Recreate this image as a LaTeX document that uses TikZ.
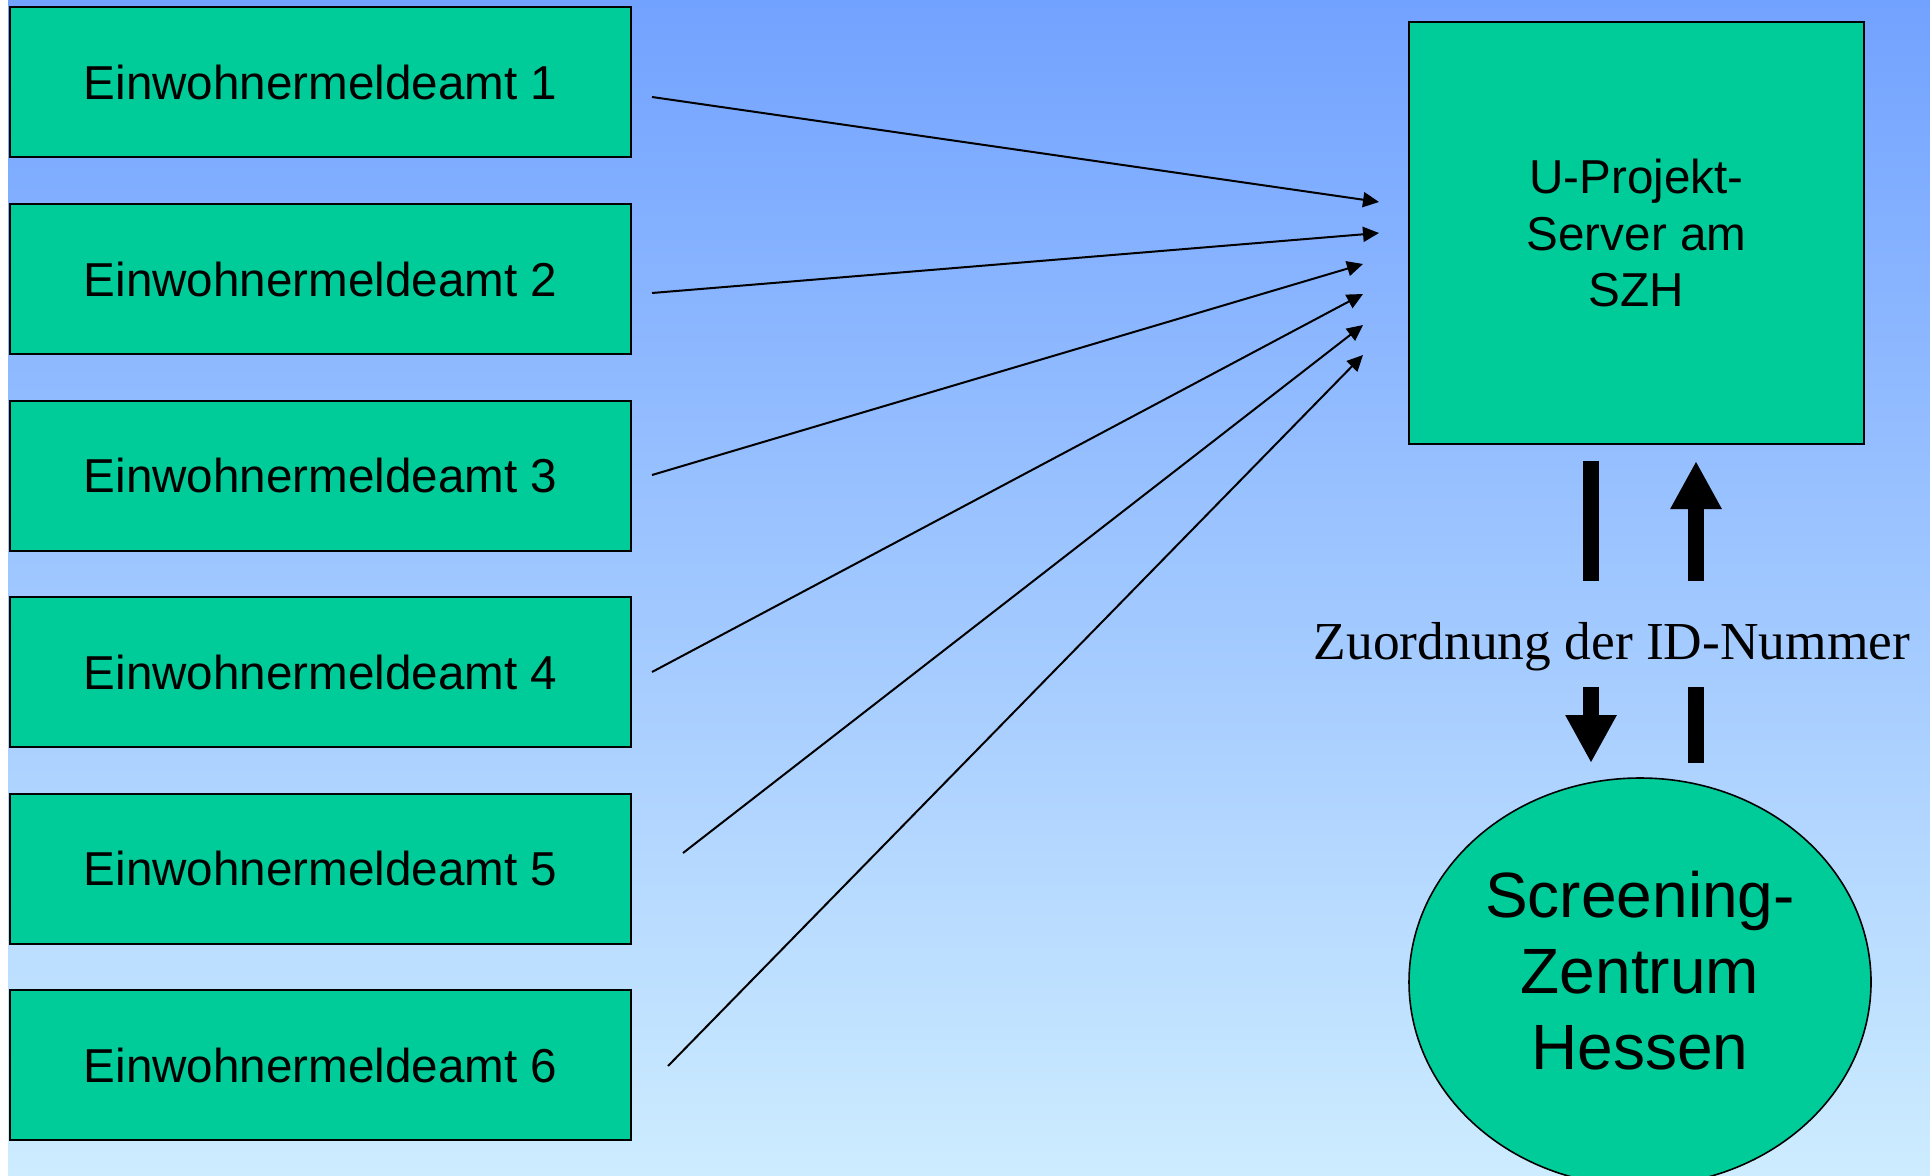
\documentclass[tikz,border=0pt]{standalone}
\usepackage{fontspec}
\setmainfont{Liberation Sans}
\newfontfamily\serifface{Liberation Serif}
\usetikzlibrary{arrows.meta,shapes.geometric}
\definecolor{bgtop}{RGB}{114,162,255}
\definecolor{bgbot}{RGB}{205,236,255}
\definecolor{boxgreen}{RGB}{0,204,153}
\tikzset{
  amtbox/.style={draw=black, line width=1pt, fill=boxgreen, rectangle,
    minimum width=310.5pt, minimum height=75pt, inner sep=0pt,
    font=\fontsize{23.8}{28.5}\selectfont},
  serverbox/.style={draw=black, line width=1pt, fill=boxgreen, rectangle,
    minimum width=227.5pt, minimum height=211pt, inner sep=0pt, align=center,
    font=\fontsize{23.8}{28.3}\selectfont},
  zentrum/.style={draw=black, line width=0.8pt, fill=boxgreen, ellipse,
    minimum width=231pt, minimum height=204pt, inner sep=0pt},
  zentrumtext/.style={align=center, font=\fontsize{32}{38}\selectfont, yshift=5.5pt},
  thinarrow/.style={line width=1pt, -{Triangle[length=8pt,width=7.5pt]}},
  thickbar/.style={line width=8pt},
  thickarrow/.style={line width=8pt, -{Triangle[length=24pt,width=24pt]}},
}
\begin{document}
\begin{tikzpicture}[x=0.5pt,y=-0.5pt]
\useasboundingbox (0,0) rectangle (1930,1176);
\fill[white] (0,0) rectangle (1930,1176);
\shade[top color=bgtop, bottom color=bgbot] (8,0) rectangle (1930,1176);

\foreach \i in {1,...,6}{
  \node[amtbox] (e\i) at (320.5, {82.5+196.5*(\i-1)}) {Einwohnermeldeamt \i};
}

\node[serverbox] (srv) at (1636.5,233) {U-Projekt-\\Server am\\SZH};
\node[zentrum, label={[zentrumtext]center:{Screening-\\Zentrum\\Hessen}}] (shz) at (1640,982) {};
\node[anchor=base, font=\serifface\fontsize{26.7}{32}\selectfont] (lbl) at (1612,659) {Zuordnung der ID-Nummer};

% thin arrows
\coordinate (s1) at (652,97);   \coordinate (t1) at (1379,202);
\coordinate (s2) at (652,293);  \coordinate (t2) at (1379,233);
\coordinate (s3) at (652,475);  \coordinate (t3) at (1363,264);
\coordinate (s4) at (652,672);  \coordinate (t4) at (1363,294);
\coordinate (s5) at (683,853);  \coordinate (t5) at (1363,325);
\coordinate (s6) at (668,1066); \coordinate (t6) at (1363,355);
\foreach \i in {1,...,6}{
  \draw[thinarrow] (s\i) -- (t\i);
}

% thick arrows
\coordinate (dA) at (1591,461); \coordinate (dB) at (1591,581);
\coordinate (dC) at (1591,687); \coordinate (dD) at (1591,763);
\coordinate (uA) at (1696,763); \coordinate (uB) at (1696,687);
\coordinate (uC) at (1696,581); \coordinate (uD) at (1696,461);
\draw[thickbar] (dA) -- (dB);
\draw[thickarrow] (dC) -- (dD);
\draw[thickbar] (uA) -- (uB);
\draw[thickarrow] (uC) -- (uD);
\end{tikzpicture}
\end{document}
